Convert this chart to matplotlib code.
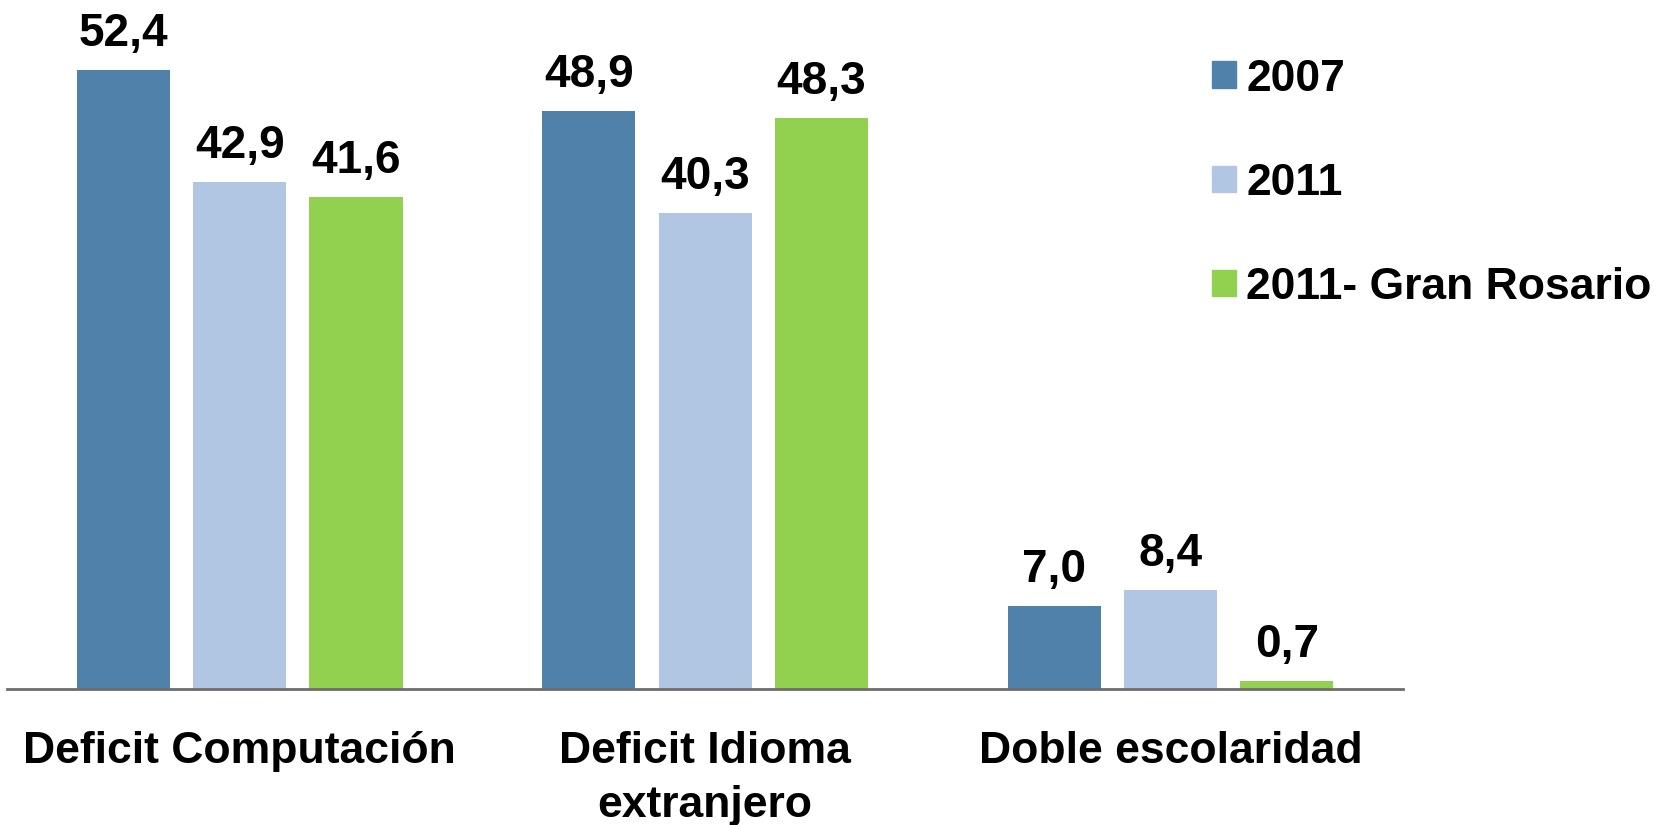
import numpy as np
import matplotlib
matplotlib.use("Agg")
import matplotlib.pyplot as plt
from matplotlib.patches import Patch

categories = ["Deficit Computación", "Deficit Idioma\nextranjero", "Doble escolaridad"]
series = ["2007", "2011", "2011- Gran Rosario"]
v2007 = [52.4, 48.9, 7.0]
v2011 = [42.9, 40.3, 8.4]
v_rosario = [41.6, 48.3, 0.7]
colors = ["#4f81ab", "#b0c6e2", "#92d050"]

plt.rcParams['font.family'] = ['Liberation Sans', 'DejaVu Sans']
plt.rcParams['font.weight'] = 'bold'

fig = plt.figure(figsize=(16.64, 8.25), dpi=100)
ax = fig.add_axes([0.0042, 0.1648, 0.839, 0.8352])

x = np.arange(len(categories))
w = 0.2
step = 0.25
for i, (vals, col) in enumerate(zip([v2007, v2011, v_rosario], colors)):
    pos = x + (i - 1) * step
    bars = ax.bar(pos, vals, width=w, color=col, label=series[i])
    for b, v in zip(bars, vals):
        ax.annotate(f"{v:.1f}".replace(".", ","), (b.get_x() + b.get_width() / 2, v),
                    xytext=(0, 10), textcoords="offset points",
                    ha="center", va="bottom", fontsize=33, fontweight="bold")

ax.set_xlim(-0.5, 2.5)
ax.set_ylim(0, 58.3)
ax.set_yticks([])
ax.set_xticks(x)
ax.set_xticklabels(categories, fontsize=32, fontweight="bold", linespacing=1.4)
ax.tick_params(axis="x", length=0, pad=30)
for s in ["top", "right", "left"]:
    ax.spines[s].set_visible(False)
ax.spines["bottom"].set_color("#6d6d6d")
ax.spines["bottom"].set_linewidth(2)

handles = [Patch(color=c, label=s) for c, s in zip(colors, series)]
ax.legend(handles=handles, loc="upper left", bbox_to_anchor=(0.863, 0.915), frameon=False,
          fontsize=32, handlelength=0.55, handleheight=0.55, handletextpad=0.22,
          labelspacing=1.42, borderaxespad=0.0, borderpad=0.0)

fig.savefig("out.png", dpi=100)
